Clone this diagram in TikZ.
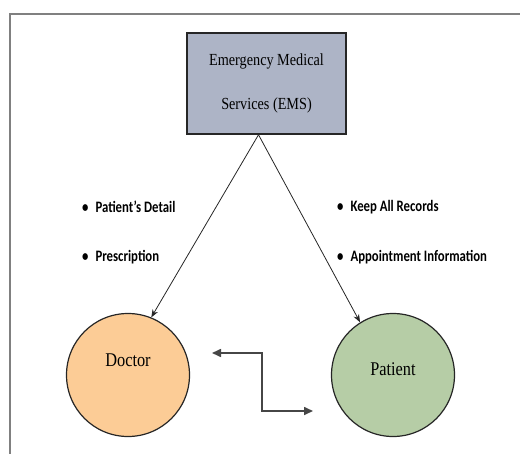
\documentclass[tikz,border=0pt]{standalone}
\usepackage{fontspec}
\setmainfont{Liberation Serif}[FakeStretch=0.84]
\newfontfamily\notefont{Carlito}[FakeStretch=0.8]
\usetikzlibrary{arrows.meta}
\definecolor{emsblue}{RGB}{173,180,198}
\definecolor{docorange}{RGB}{252,204,150}
\definecolor{patgreen}{RGB}{182,205,166}
\definecolor{framegray}{RGB}{128,128,128}
\definecolor{linkgray}{RGB}{70,70,70}
\begin{document}
\begin{tikzpicture}[x=1bp, y=-1bp,
  party/.style={draw=black!85, line width=1.2bp, circle, minimum size=123bp, inner sep=0pt},
  note/.style={anchor=west, inner sep=0pt, font=\notefont\bfseries\fontsize{16}{18}\selectfont}]
\useasboundingbox (0,0) rectangle (520,454);
\draw[framegray, line width=2bp] (10,454) -- (10,14) -- (521,14);
\node[draw=black!85, line width=1.5bp, fill=emsblue, minimum width=159bp, minimum height=101bp, align=center, font=\fontsize{17}{45}\selectfont] (ems) at (266.5,83.5) {Emergency Medical\\Services (EMS)};
\node[party, fill=docorange, text depth=30bp, font=\fontsize{19.5}{22}\selectfont] (doctor) at (128,375) {Doctor};
\node[party, fill=patgreen, text depth=12bp, font=\fontsize{19.5}{22}\selectfont] (patient) at (393,375) {Patient};
\node[note] (detail) at (82,207) {\textbullet\hspace{7bp}Patient’s Detail};
\node[note] (prescr) at (82,257) {\textbullet\hspace{7bp}Prescription};
\node[note] (records) at (337,207) {\textbullet\hspace{7bp}Keep All Records};
\node[note] (appoint) at (337,257) {\textbullet\hspace{7bp}Appointment Information};
\draw[-{Stealth[length=8bp,width=6bp]}, black!85, line width=0.8bp] ([xshift=-8bp]ems.south) -- (doctor.68);
\draw[-{Stealth[length=8bp,width=6bp]}, black!85, line width=0.8bp] ([xshift=-8bp]ems.south) -- (patient.122);
\coordinate (linkdoc) at (212,353);
\coordinate (linkpat) at (313,411);
\draw[{Triangle[length=9bp,width=8bp]}-{Triangle[length=9bp,width=8bp]}, linkgray, line width=1.6bp] (linkdoc) -- ++(50,0) |- (linkpat);
\end{tikzpicture}
\end{document}
